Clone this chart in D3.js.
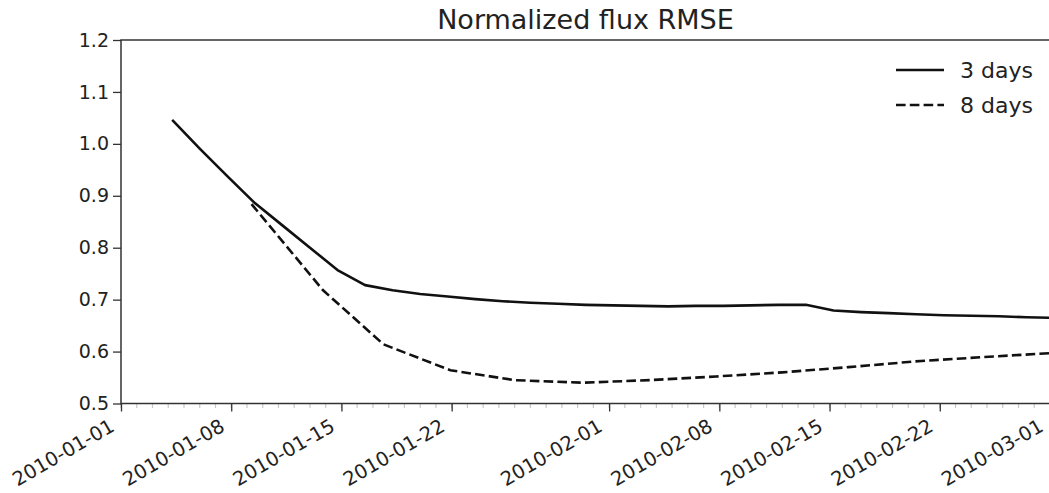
<!DOCTYPE html>
<html>
<head>
<meta charset="utf-8">
<script src="https://cdn.jsdelivr.net/npm/d3@7"></script>
<style>
  html, body { margin: 0; padding: 0; background: #fff; }
  svg { display: block; }
  text { font-family: "DejaVu Sans", sans-serif; fill: #222; }
</style>
</head>
<body>
<svg id="chart" width="1049" height="493"></svg>
<script>
// ---- data ----
const title = "Normalized flux RMSE";
const seriesNames = ["3 days", "8 days"];

const dates3 = [
  "2010-01-04T06:00","2010-01-06T00:00","2010-01-07T18:00","2010-01-09T12:00",
  "2010-01-11T06:00","2010-01-13T00:00","2010-01-14T18:00","2010-01-16T12:00",
  "2010-01-18T06:00","2010-01-20T00:00","2010-01-21T18:00","2010-01-23T12:00",
  "2010-01-25T06:00","2010-01-27T00:00","2010-01-28T18:00","2010-01-30T12:00",
  "2010-02-01T06:00","2010-02-03T00:00","2010-02-04T18:00","2010-02-06T12:00",
  "2010-02-08T06:00","2010-02-10T00:00","2010-02-11T18:00","2010-02-13T12:00",
  "2010-02-15T06:00","2010-02-17T00:00","2010-02-18T18:00","2010-02-20T12:00",
  "2010-02-22T06:00","2010-02-24T00:00","2010-02-25T18:00","2010-02-27T12:00",
  "2010-03-01T00:00"
];
const values3 = [
  1.046, 0.991, 0.938, 0.886,
  0.843, 0.800, 0.757, 0.728,
  0.718, 0.711, 0.706, 0.701,
  0.697, 0.694, 0.692, 0.690,
  0.689, 0.688, 0.687, 0.688,
  0.688, 0.689, 0.690, 0.690,
  0.679, 0.676, 0.674, 0.672,
  0.670, 0.669, 0.668, 0.666,
  0.665
];

const dates8 = [
  "2010-01-09T07:00","2010-01-13T20:00","2010-01-17T16:00","2010-01-21T22:00",
  "2010-01-26T00:00","2010-01-30T07:00","2010-02-03T14:00","2010-02-07T19:00",
  "2010-02-12T00:00","2010-02-16T05:00","2010-02-20T10:00","2010-02-24T14:00",
  "2010-03-01T00:00"
];
const values8 = [
  0.884, 0.718, 0.614, 0.564,
  0.545, 0.540, 0.545, 0.552,
  0.560, 0.570, 0.581, 0.589,
  0.597
];

const xTickLabels = ["2010-01-01","2010-01-08","2010-01-15","2010-01-22",
                     "2010-02-01","2010-02-08","2010-02-15","2010-02-22","2010-03-01"];
const yTicks = [0.5, 0.6, 0.7, 0.8, 0.9, 1.0, 1.1, 1.2];
const xDomain = ["2010-01-01", "2010-03-01"];
const yDomain = [0.5, 1.2];

// ---- drawing ----
const parse = d3.utcParse("%Y-%m-%dT%H:%M");
const parseDay = d3.utcParse("%Y-%m-%d");

const svg = d3.select("#chart");
const mLeft = 121, mRight = 1050, mTop = 40, mBottom = 403.5;

const x = d3.scaleUtc().domain(xDomain.map(parseDay)).range([mLeft, mRight]);
const y = d3.scaleLinear().domain(yDomain).range([mBottom, mTop]);

// minor ticks (daily)
const minor = d3.utcDay.range(parseDay(xDomain[0]), d3.utcDay.offset(parseDay(xDomain[1]), 1));
svg.append("g").selectAll("line").data(minor).join("line")
  .attr("x1", d => x(d)).attr("x2", d => x(d))
  .attr("y1", mBottom).attr("y2", mBottom + 4.5)
  .attr("stroke", "#c8c8c8").attr("stroke-width", 1.2);

// x axis
const xAxis = d3.axisBottom(x)
  .tickValues(xTickLabels.map(parseDay))
  .tickFormat(d3.utcFormat("%Y-%m-%d"))
  .tickSize(8).tickSizeOuter(0);
const gx = svg.append("g").attr("transform", `translate(0,${mBottom})`).call(xAxis);
gx.select(".domain").remove();
gx.selectAll(".tick line").attr("stroke", "#333").attr("stroke-width", 1.3);
gx.selectAll(".tick text")
  .attr("font-size", 19.5)
  .attr("font-family", "DejaVu Sans")
  .attr("fill", "#222")
  .attr("text-anchor", "end")
  .attr("dy", null)
  .attr("y", 0).attr("x", 0)
  .attr("transform", "translate(-13,14) rotate(-30)")
  .attr("dominant-baseline", "hanging");

// y axis
const yAxis = d3.axisLeft(y).tickValues(yTicks).tickFormat(d3.format(".1f")).tickSize(8).tickSizeOuter(0);
const gy = svg.append("g").attr("transform", `translate(${mLeft},0)`).call(yAxis);
gy.select(".domain").remove();
gy.selectAll(".tick line").attr("stroke", "#333").attr("stroke-width", 1.3);
gy.selectAll(".tick text")
  .attr("font-size", 19).attr("font-family", "DejaVu Sans").attr("fill", "#222")
  .attr("x", -12);

// frame
svg.append("rect").attr("x", mLeft).attr("y", mTop)
  .attr("width", mRight - mLeft).attr("height", mBottom - mTop)
  .attr("fill", "none").attr("stroke", "#333").attr("stroke-width", 1.5);

// clip
svg.append("clipPath").attr("id", "clip").append("rect")
  .attr("x", mLeft).attr("y", mTop).attr("width", mRight - mLeft).attr("height", mBottom - mTop);

const line = d3.line().x(d => x(d[0])).y(d => y(d[1]));
const s3 = dates3.map((d, i) => [parse(d), values3[i]]);
const s8 = dates8.map((d, i) => [parse(d), values8[i]]);

const plot = svg.append("g").attr("clip-path", "url(#clip)");
plot.append("path").datum(s3).attr("d", line)
  .attr("fill", "none").attr("stroke", "#111").attr("stroke-width", 2.6)
  .attr("stroke-linejoin", "round");
plot.append("path").datum(s8).attr("d", line)
  .attr("fill", "none").attr("stroke", "#111").attr("stroke-width", 2.6)
  .attr("stroke-dasharray", "9.6,4.2");

// title
svg.append("text").attr("x", (mLeft + mRight) / 2).attr("y", 29)
  .attr("text-anchor", "middle").attr("font-size", 27).text(title);

// legend
const legend = svg.append("g");
const legY = [70, 105];
const dashes = [null, "9.6,4.2"];
seriesNames.forEach((n, i) => {
  legend.append("line").attr("x1", 896).attr("x2", 944)
    .attr("y1", legY[i]).attr("y2", legY[i])
    .attr("stroke", "#111").attr("stroke-width", 2.6)
    .attr("stroke-dasharray", dashes[i]);
  legend.append("text").attr("x", 960).attr("y", legY[i])
    .attr("dominant-baseline", "central").attr("font-size", 22).text(n);
});
</script>
</body>
</html>
